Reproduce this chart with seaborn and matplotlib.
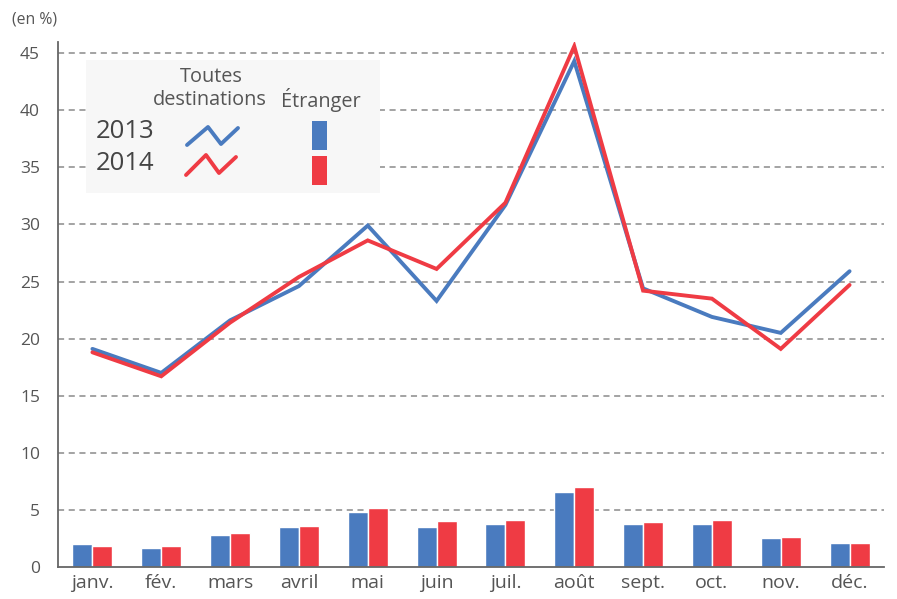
import numpy as np
import pandas as pd
import matplotlib
matplotlib.use("Agg")
import matplotlib.pyplot as plt
import seaborn as sns
from matplotlib.patches import Rectangle
from matplotlib.lines import Line2D

months = ["janv.", "fév.", "mars", "avril", "mai", "juin", "juil.", "août", "sept.", "oct.", "nov.", "déc."]
all_2013 = [19.1, 17.0, 21.6, 24.6, 29.9, 23.3, 31.7, 44.3, 24.4, 21.9, 20.5, 25.9]
all_2014 = [18.8, 16.7, 21.4, 25.4, 28.6, 26.1, 31.9, 45.6, 24.2, 23.5, 19.1, 24.7]
abroad_2013 = [2.0, 1.7, 2.8, 3.5, 4.85, 3.5, 3.75, 6.6, 3.75, 3.75, 2.5, 2.1]
abroad_2014 = [1.8, 1.8, 2.95, 3.6, 5.2, 4.0, 4.1, 7.0, 3.9, 4.1, 2.65, 2.1]
years = ["2013", "2014"]
yticks = [0, 5, 10, 15, 20, 25, 30, 35, 40, 45]

BLUE = "#4a7bbf"
RED = "#ef3b44"
GREY = "#555555"

sns.set_theme(style="white")
plt.rcParams['font.family'] = ['Open Sans', 'DejaVu Sans']

bars = pd.DataFrame({
    "mois": months * 2,
    "annee": [years[0]] * 12 + [years[1]] * 12,
    "val": abroad_2013 + abroad_2014,
})
lines = pd.DataFrame({
    "pos": list(range(12)) * 2,
    "annee": [years[0]] * 12 + [years[1]] * 12,
    "val": all_2013 + all_2014,
})

fig = plt.figure(figsize=(8.97, 5.99), dpi=100)
ax = fig.add_axes([58 / 897, (599 - 567) / 599, (884 - 58) / 897, (567 - 41.7) / 599])

for y in yticks[1:]:
    ax.axhline(y, color="#8a8a8a", lw=1.1, ls=(0, (4, 3)), zorder=0)

sns.barplot(data=bars, x="mois", y="val", hue="annee", order=months,
            palette=[BLUE, RED], width=0.58, gap=0, saturation=1,
            ax=ax, legend=False, zorder=2)
sns.lineplot(data=lines, x="pos", y="val", hue="annee", palette=[BLUE, RED],
             lw=2.8, ax=ax, legend=False, zorder=3, solid_joinstyle="miter")

ax.set_xlim(-0.5, 11.5)
ax.set_ylim(0, 46)
ax.set_yticks(yticks)
ax.set_yticklabels([str(v) for v in yticks], color=GREY, fontsize=12.5)
ax.set_xticks(range(12))
ax.set_xticklabels(months, color=GREY, fontsize=14)
ax.set_xticks(np.arange(-0.5, 12, 1), minor=True)
ax.tick_params(axis="x", which="major", length=0, pad=5)
ax.tick_params(axis="x", which="minor", length=6, width=1.2, color="#666666", direction="out")
ax.tick_params(axis="y", which="major", length=9, width=1.2, color="#666666", direction="out", pad=4)
ax.set_xlabel("")
ax.set_ylabel("")
for s in ["top", "right"]:
    ax.spines[s].set_visible(False)
for s in ["left", "bottom"]:
    ax.spines[s].set_color("#666666")
    ax.spines[s].set_linewidth(1.3)

fig.text(12 / 897, 1 - 20 / 599, "(en %)", color=GREY, fontsize=11.3, va="center", ha="left")

# legend box (pixel coords -> figure fraction)
def fx(px):
    return px / 897
def fy(py):
    return 1 - py / 599

fig.add_artist(Rectangle((fx(86), fy(193)), fx(380) - fx(86), fy(60) - fy(193),
                         transform=fig.transFigure, facecolor="#f7f7f7", edgecolor="none", zorder=4))
fig.text(fx(211), fy(77), "Toutes", ha="center", va="center", color=GREY, fontsize=14.3, zorder=5)
fig.text(fx(210), fy(100), "destinations", ha="center", va="center", color=GREY, fontsize=14.3, zorder=5)
fig.text(fx(321), fy(100), "Étranger", ha="center", va="center", color=GREY, fontsize=14.3, zorder=5)
fig.text(fx(96), fy(132), "2013", ha="left", va="center", color="#444444", fontsize=18.5, zorder=5)
fig.text(fx(96), fy(163), "2014", ha="left", va="center", color="#444444", fontsize=18.5, zorder=5)
fig.add_artist(Line2D([fx(187), fx(208), fx(221), fx(238)], [fy(145), fy(127), fy(144), fy(128)],
                      transform=fig.transFigure, color=BLUE, lw=2.8, zorder=5))
fig.add_artist(Line2D([fx(186), fx(206), fx(219), fx(236)], [fy(175), fy(155), fy(173), fy(157)],
                      transform=fig.transFigure, color=RED, lw=2.8, zorder=5))
fig.add_artist(Rectangle((fx(312), fy(150)), fx(327) - fx(312), fy(121) - fy(150),
                         transform=fig.transFigure, facecolor=BLUE, edgecolor="none", zorder=5))
fig.add_artist(Rectangle((fx(312), fy(185)), fx(327) - fx(312), fy(156) - fy(185),
                         transform=fig.transFigure, facecolor=RED, edgecolor="none", zorder=5))

fig.savefig("out.png", dpi=100)
